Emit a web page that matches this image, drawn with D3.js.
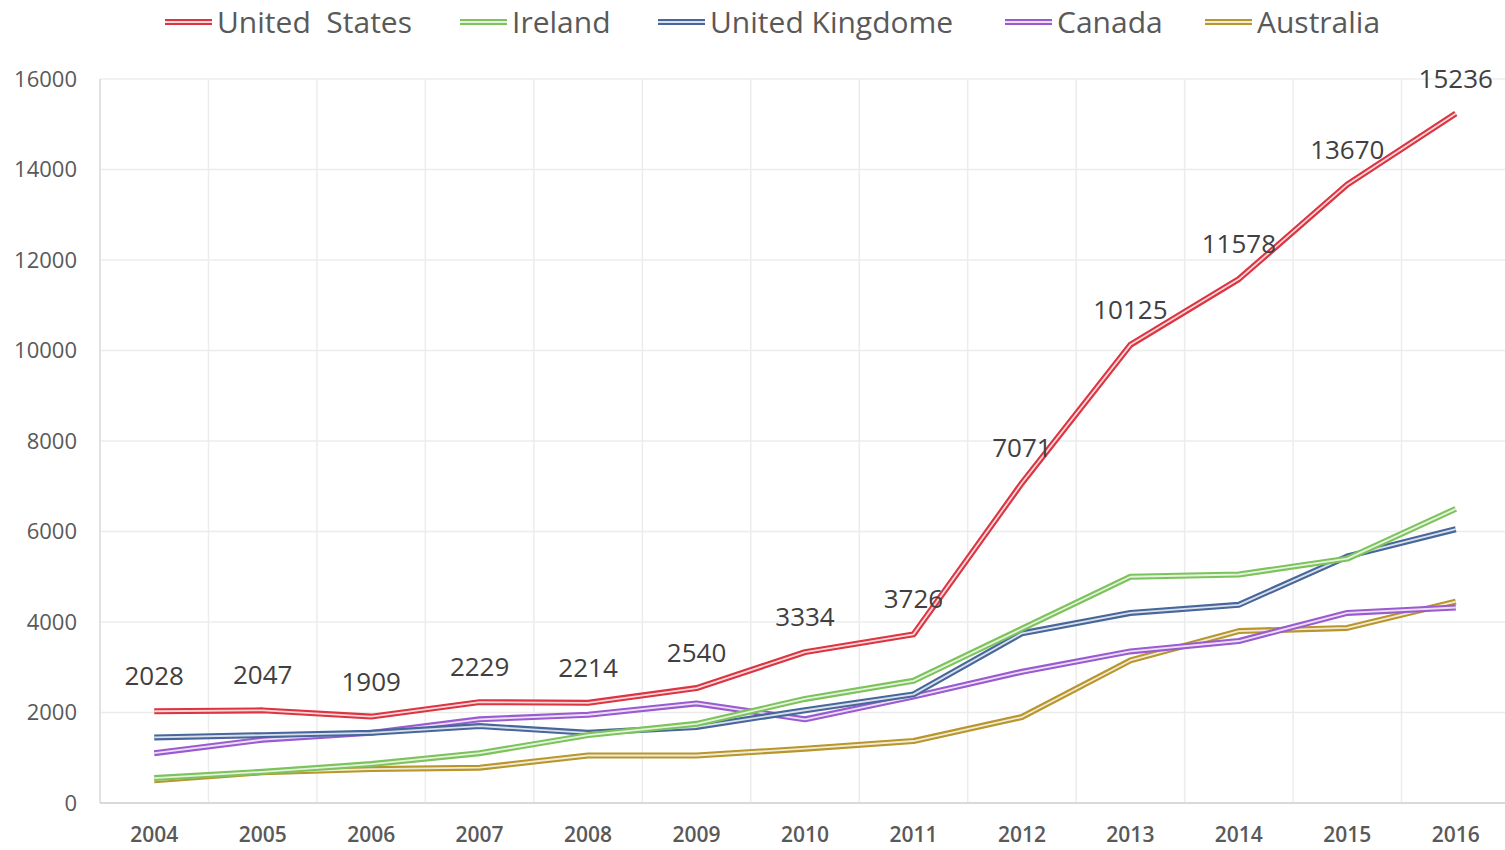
<!DOCTYPE html>
<html>
<head>
<meta charset="utf-8">
<script src="https://cdn.jsdelivr.net/npm/d3@7"></script>
<style>
  body { margin: 0; background: #fff; }
  svg { font-family: "Open Sans", "Liberation Sans", sans-serif; }
</style>
</head>
<body>
<div id="chart"></div>
<script>
// years along the bottom
const years = ["2004","2005","2006","2007","2008","2009","2010","2011","2012","2013","2014","2015","2016"];

// series values
const unitedStates = [2028, 2047, 1909, 2229, 2214, 2540, 3334, 3726, 7071, 10125, 11578, 13670, 15236];
const ireland      = [550, 690, 860, 1100, 1500, 1750, 2300, 2700, 3850, 5000, 5050, 5400, 6500];
const unitedKingdome = [1450, 1500, 1550, 1700, 1550, 1680, 2050, 2400, 3750, 4200, 4380, 5450, 6050];
const canada       = [1100, 1400, 1550, 1850, 1950, 2200, 1850, 2350, 2900, 3350, 3580, 4200, 4320];
const australia    = [500, 680, 750, 780, 1050, 1050, 1200, 1370, 1900, 3150, 3800, 3870, 4450];

const yTicks = [0, 2000, 4000, 6000, 8000, 10000, 12000, 14000, 16000];

const seriesNames  = ["United  States", "Ireland", "United Kingdome", "Canada", "Australia"];
const seriesValues = [unitedStates, ireland, unitedKingdome, canada, australia];
const seriesColors = ["#dc3440", "#7cc35c", "#47679b", "#9a5bd0", "#b8962c"];

const W = 1505, H = 850;
const svg = d3.select("#chart").append("svg")
  .attr("width", W).attr("height", H);

// scales
const x = d3.scaleBand().domain(years).range([100, 1510]);
const y = d3.scaleLinear().domain([0, 16000]).range([803, 79]);
const cx = d => x(d) + x.bandwidth() / 2;

// horizontal grid
svg.append("g").selectAll("line")
  .data(yTicks.filter(d => d > 0))
  .join("line")
  .attr("x1", 100).attr("x2", 1510)
  .attr("y1", d => y(d)).attr("y2", d => y(d))
  .attr("stroke", "#ececec").attr("stroke-width", 1.5);

// vertical grid at category edges
svg.append("g").selectAll("line")
  .data(years.slice(1))
  .join("line")
  .attr("x1", d => x(d)).attr("x2", d => x(d))
  .attr("y1", y(16000)).attr("y2", y(0))
  .attr("stroke", "#ececec").attr("stroke-width", 1.5);

// left + bottom axis lines
svg.append("line")
  .attr("x1", 100).attr("x2", 100).attr("y1", y(16000)).attr("y2", y(0))
  .attr("stroke", "#d9d9d9").attr("stroke-width", 1.5);
svg.append("line")
  .attr("x1", 100).attr("x2", 1510).attr("y1", y(0)).attr("y2", y(0))
  .attr("stroke", "#d9d9d9").attr("stroke-width", 2);

// y tick labels
svg.append("g").selectAll("text")
  .data(yTicks)
  .join("text")
  .attr("x", 77).attr("y", d => y(d))
  .attr("dy", "0.35em")
  .attr("text-anchor", "end")
  .attr("font-size", 22)
  .attr("fill", "#595959")
  .text(d => d);

// x tick labels
svg.append("g").selectAll("text")
  .data(years)
  .join("text")
  .attr("x", d => cx(d)).attr("y", 842)
  .attr("text-anchor", "middle")
  .attr("font-size", 21)
  .attr("font-weight", 600)
  .attr("fill", "#595959")
  .text(d => d);

// lines drawn as a double stroke
const line = d3.line()
  .x((d, i) => cx(years[i]))
  .y(d => y(d));

// draw in reverse so US ends up on top
const order = [4, 3, 2, 1, 0];
order.forEach(k => {
  const g = svg.append("g");
  g.append("path")
    .attr("d", line(seriesValues[k]))
    .attr("fill", "none")
    .attr("stroke", seriesColors[k])
    .attr("stroke-width", 6)
    .attr("stroke-linejoin", "round");
  g.append("path")
    .attr("d", line(seriesValues[k]))
    .attr("fill", "none")
    .attr("stroke", "#fff")
    .attr("stroke-opacity", 0.8)
    .attr("stroke-width", 1.8)
    .attr("stroke-linejoin", "round");
});

// data labels for US
svg.append("g").selectAll("text")
  .data(unitedStates)
  .join("text")
  .attr("x", (d, i) => cx(years[i]))
  .attr("y", d => y(d) - 35)
  .attr("dy", "0.35em")
  .attr("text-anchor", "middle")
  .attr("font-size", 26)
  .attr("font-weight", 500)
  .attr("fill", "#404040")
  .text(d => d);

// legend
const legendX = [165, 460, 658, 1005, 1205];
const leg = svg.append("g").selectAll("g")
  .data(seriesNames)
  .join("g")
  .attr("transform", (d, i) => `translate(${legendX[i]},22)`);
leg.append("line")
  .attr("x1", 0).attr("x2", 47).attr("y1", 0).attr("y2", 0)
  .attr("stroke", (d, i) => seriesColors[i]).attr("stroke-width", 6);
leg.append("line")
  .attr("x1", 0).attr("x2", 47).attr("y1", 0).attr("y2", 0)
  .attr("stroke", "#fff").attr("stroke-opacity", 0.8).attr("stroke-width", 1.8);
leg.append("text")
  .attr("x", 52).attr("y", 0).attr("dy", "0.35em")
  .attr("font-size", 30)
  .attr("font-weight", 500)
  .attr("fill", "#595959")
  .attr("xml:space", "preserve")
  .text(d => d);
</script>
</body>
</html>
